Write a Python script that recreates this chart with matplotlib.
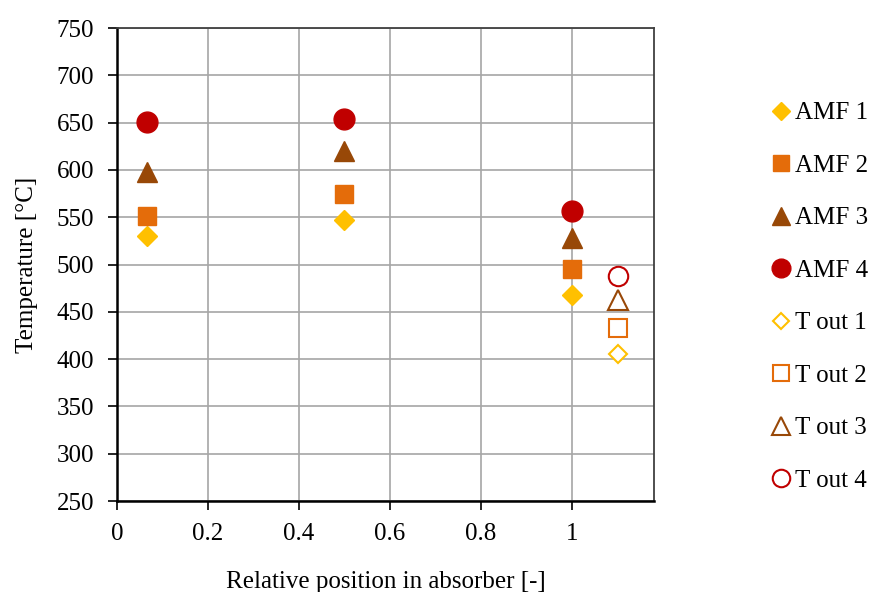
import matplotlib
matplotlib.use("Agg")
import matplotlib.pyplot as plt

plt.rcParams['font.family'] = ['Liberation Serif', 'DejaVu Serif']

# Data
x_amf = [0.067, 0.5, 1.0]
amf1 = [530, 547, 468]
amf2 = [551, 575, 495]
amf3 = [598, 620, 528]
amf4 = [651, 654, 557]
x_tout = [1.1]
tout1 = [405]
tout2 = [433]
tout3 = [462]
tout4 = [488]

labels = ["AMF 1", "AMF 2", "AMF 3", "AMF 4", "T out 1", "T out 2", "T out 3", "T out 4"]
xticks = [0, 0.2, 0.4, 0.6, 0.8, 1]
xticklabels = ["0", "0.2", "0.4", "0.6", "0.8", "1"]
yticks = list(range(250, 751, 50))

c1, c2, c3, c4 = "#FFC000", "#E46C0A", "#984807", "#C00000"

fig = plt.figure(figsize=(8.72, 5.92), dpi=100)
ax = fig.add_axes([0.134, 0.1537, 0.616, 0.799])

handles = []
handles += ax.plot(x_amf, amf1, linestyle='none', marker='D', ms=10.3, color=c1, mec=c1, label=labels[0])
handles += ax.plot(x_amf, amf2, linestyle='none', marker='s', ms=13.5, color=c2, mec=c2, label=labels[1])
handles += ax.plot(x_amf, amf3, linestyle='none', marker='^', ms=15, color=c3, mec=c3, label=labels[2])
handles += ax.plot(x_amf, amf4, linestyle='none', marker='o', ms=15, color=c4, mec=c4, label=labels[3])
handles += ax.plot(x_tout, tout1, linestyle='none', marker='D', ms=9.6, mfc='white', mec=c1, mew=1.5, label=labels[4])
handles += ax.plot(x_tout, tout2, linestyle='none', marker='s', ms=13.3, mfc='white', mec=c2, mew=1.5, label=labels[5])
handles += ax.plot(x_tout, tout3, linestyle='none', marker='^', ms=14.5, mfc='white', mec=c3, mew=1.5, label=labels[6])
handles += ax.plot(x_tout, tout4, linestyle='none', marker='o', ms=14, mfc='white', mec=c4, mew=1.5, label=labels[7])

ax.set_xlim(0, 1.18)
ax.set_ylim(250, 750)
ax.set_xticks(xticks)
ax.set_xticklabels(xticklabels)
ax.set_yticks(yticks)
ax.grid(True, color='#A6A6A6', linewidth=1.2)
ax.set_axisbelow(True)

for s in ['top', 'right']:
    ax.spines[s].set_color('#404040')
    ax.spines[s].set_linewidth(1.3)
for s in ['left', 'bottom']:
    ax.spines[s].set_color('black')
    ax.spines[s].set_linewidth(1.8)

ax.tick_params(axis='both', direction='out', length=6.5, width=1.2, labelsize=18)
ax.tick_params(axis='y', pad=10)
ax.tick_params(axis='x', pad=9)

ax.set_xlabel("Relative position in absorber [-]", fontsize=18, labelpad=19)
ax.set_ylabel("Temperature [°C]", fontsize=18, labelpad=13)

leg = fig.legend(handles=handles, loc='upper left', bbox_to_anchor=(0.871, 0.845),
                 frameon=False, fontsize=18, markerscale=0.9, handlelength=0.9,
                 handletextpad=0.1, labelspacing=1.2, borderaxespad=0)

fig.savefig("out.png", dpi=100)
